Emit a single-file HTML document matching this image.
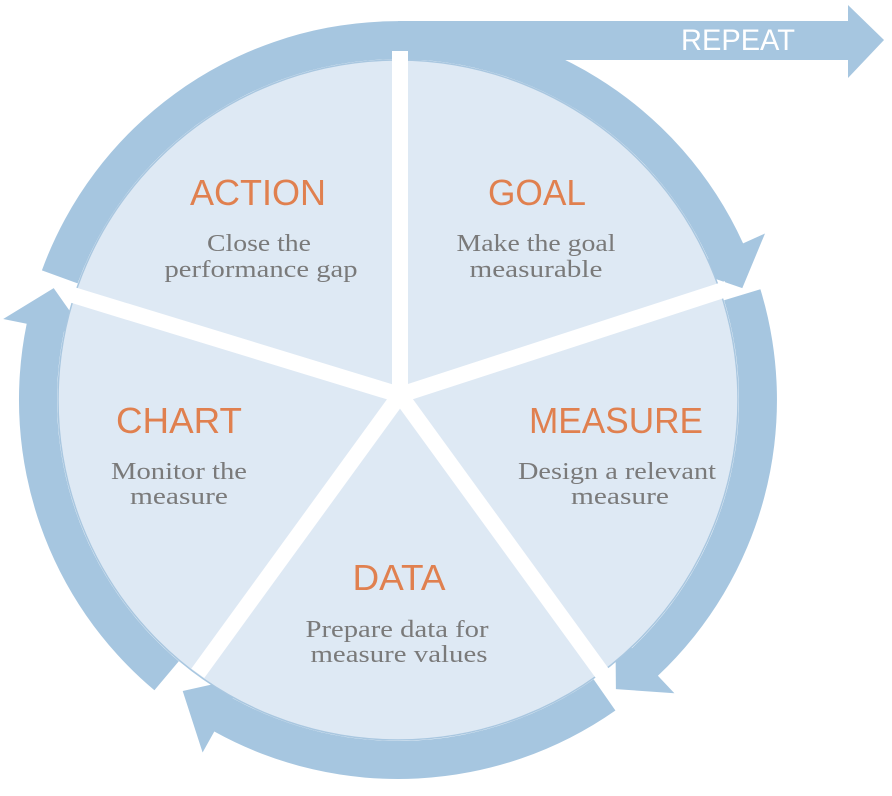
<!DOCTYPE html>
<html><head><meta charset="utf-8"><style>
html,body{margin:0;padding:0;background:#fff;}
svg{display:block}
.t{font-family:"Liberation Sans",sans-serif;fill:#e0804f;font-size:36px;text-anchor:middle}
.s{font-family:"Liberation Serif",serif;fill:#7a7a7a;font-size:24px;text-anchor:middle}
</style></head><body>
<svg id="sv" width="892" height="796" viewBox="0 0 892 796" xmlns="http://www.w3.org/2000/svg">
<g id="ring" fill="#a6c6e0">
<rect x="398" y="21" width="452" height="39"/>
<polygon points="848,5 884,40 848,78"/>
</g>
<circle cx="398" cy="400" r="340" fill="#dee9f4" stroke="#a9c7e0" stroke-width="1.5"/>
<g id="sep" stroke="#fff" stroke-width="16"></g>
<circle cx="401" cy="396" r="11" fill="#fff"/>
<text x="738" y="50" font-family="Liberation Sans,sans-serif" font-size="30" fill="#fff" text-anchor="middle" textLength="114" lengthAdjust="spacingAndGlyphs">REPEAT</text>
<g lengthAdjust="spacingAndGlyphs">
<text class="t" x="258" y="205" textLength="136" lengthAdjust="spacingAndGlyphs">ACTION</text>
<text class="s" x="259" y="251" textLength="104" lengthAdjust="spacingAndGlyphs">Close the</text>
<text class="s" x="261" y="277" textLength="193" lengthAdjust="spacingAndGlyphs">performance gap</text>
<text class="t" x="537" y="205" textLength="98" lengthAdjust="spacingAndGlyphs">GOAL</text>
<text class="s" x="536" y="251" textLength="159" lengthAdjust="spacingAndGlyphs">Make the goal</text>
<text class="s" x="536" y="277" textLength="133" lengthAdjust="spacingAndGlyphs">measurable</text>
<text class="t" x="179" y="433" textLength="126" lengthAdjust="spacingAndGlyphs">CHART</text>
<text class="s" x="179" y="479" textLength="136" lengthAdjust="spacingAndGlyphs">Monitor the</text>
<text class="s" x="179" y="504" textLength="98" lengthAdjust="spacingAndGlyphs">measure</text>
<text class="t" x="616" y="433" textLength="174" lengthAdjust="spacingAndGlyphs">MEASURE</text>
<text class="s" x="617" y="479" textLength="198" lengthAdjust="spacingAndGlyphs">Design a relevant</text>
<text class="s" x="620" y="504" textLength="98" lengthAdjust="spacingAndGlyphs">measure</text>
<text class="t" x="399" y="590" textLength="93" lengthAdjust="spacingAndGlyphs">DATA</text>
<text class="s" x="397" y="637" textLength="183" lengthAdjust="spacingAndGlyphs">Prepare data for</text>
<text class="s" x="399" y="662" textLength="177" lengthAdjust="spacingAndGlyphs">measure values</text>
</g>
</svg>
<script>
(function(){
var cx=398,cy=400,R1=341,R2=379;
function P(r,a){a=a*Math.PI/180;return (cx+r*Math.cos(a)).toFixed(1)+' '+(cy+r*Math.sin(a)).toFixed(1);}
function seg(a0,aB,aT){
  var large=(aB-a0)>180?1:0;
  var d='M '+P(R2,a0)+' A '+R2+' '+R2+' 0 '+large+' 1 '+P(R2,aB)+
  ' L '+P(R2+24,aB)+' L '+P(362,aT)+' L '+P(R1-24,aB)+' L '+P(R1,aB)+
  ' A '+R1+' '+R1+' 0 '+large+' 0 '+P(R1,a0)+' Z';
  var p=document.createElementNS('http://www.w3.org/2000/svg','path');
  p.setAttribute('d',d);document.getElementById('ring').appendChild(p);
}
seg(200,335.6,342);
seg(343,406.7,413);
seg(415,479,486.5);
seg(490,551.6,558);
var s=document.getElementById('sep');
[-90,-18,54,126,197].forEach(function(a){
  var r=a*Math.PI/180;
  var l=document.createElementNS('http://www.w3.org/2000/svg','line');
  l.setAttribute('x1',400);l.setAttribute('y1',395);
  l.setAttribute('x2',(400+344*Math.cos(r)).toFixed(1));
  l.setAttribute('y2',(395+344*Math.sin(r)).toFixed(1));
  s.appendChild(l);
});
})();
</script>
</body></html>
